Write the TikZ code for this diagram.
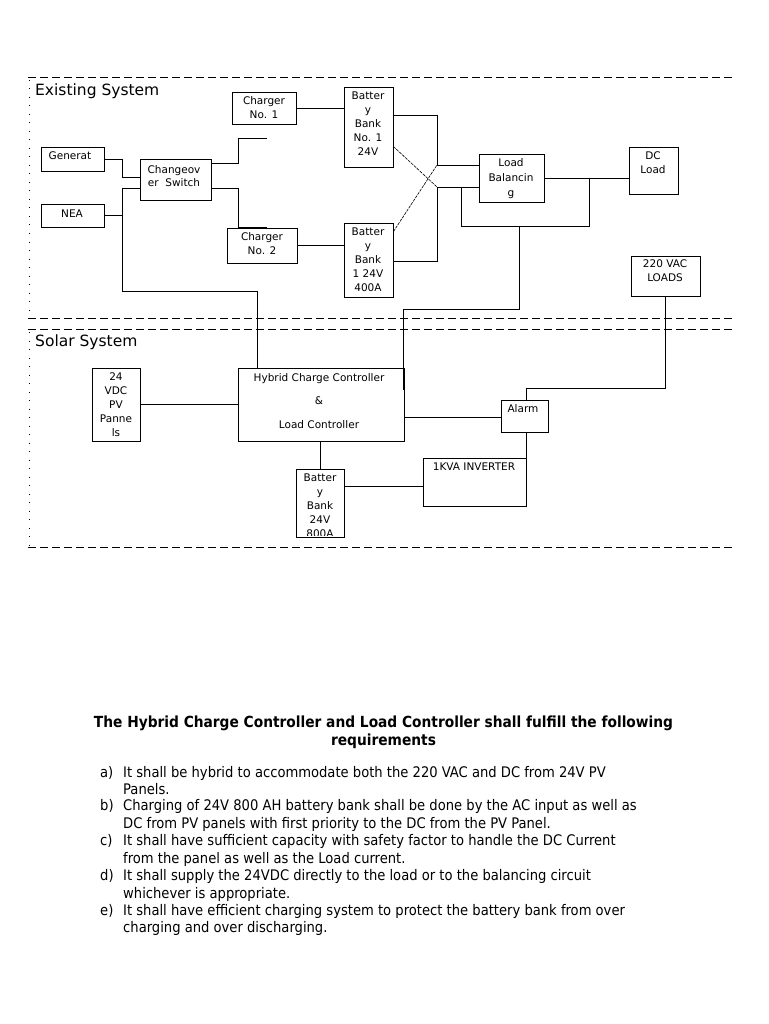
\documentclass[tikz,border=0pt]{standalone}
\usepackage{fontspec}
\setmainfont{DejaVu Sans}
\newfontfamily\bodyfont{DejaVu Sans Condensed}
\begin{document}
\begin{tikzpicture}[x=1pt,y=-1pt,
  box/.style={draw,line width=0.9pt,inner sep=0pt,rectangle},
  lbl/.style={inner sep=0pt,anchor=north,align=center,font={\fontsize{10.5}{14}\selectfont}},
  frame/.style={line width=0.8pt,dash pattern=on 8pt off 4pt},
  side/.style={line width=0.8pt,dash pattern=on 1pt off 7.5pt},
  wire/.style={line width=0.9pt},
  cross/.style={line width=0.6pt,dash pattern=on 3pt off 1pt},
  body/.style={inner sep=0pt,anchor=base west,font={\bodyfont\fontsize{14.6}{17}\selectfont}},
  head/.style={inner sep=0pt,anchor=base,font={\bodyfont\bfseries\fontsize{15.3}{17}\selectfont}}]
\useasboundingbox (0,0) rectangle (768,1024);
\fill[white] (0,0) rectangle (768,1024);

% frames
\draw[frame] (28,77) -- (735,77);
\draw[frame] (28,318) -- (735,318);
\draw[frame] (28,329) -- (735,329);
\draw[frame] (28,547) -- (735,547);
\draw[side] (29,80) -- (29,318);
\draw[side] (29,332) -- (29,547);
\node[inner sep=0pt,anchor=base west,font={\fontsize{15.5}{18}\selectfont}] (tex) at (35,96) {Existing System};
\node[inner sep=0pt,anchor=base west,font={\fontsize{15.5}{18}\selectfont}] (tsol) at (35,346) {Solar System};

% boxes
\node[box,minimum width=63pt,minimum height=24pt] (gen) at (72.5,159) {};
\node[box,minimum width=63pt,minimum height=23pt] (nea) at (72.5,215.5) {};
\node[box,minimum width=71pt,minimum height=41pt] (cos) at (175.5,179.5) {};
\node[box,minimum width=64pt,minimum height=32pt] (ch1) at (264,108) {};
\node[box,minimum width=70pt,minimum height=35pt] (ch2) at (262,245.5) {};
\node[box,minimum width=49pt,minimum height=80pt] (bb1) at (368.5,127) {};
\node[box,minimum width=49pt,minimum height=74pt] (bb2) at (368.5,260) {};
\node[box,minimum width=65pt,minimum height=48pt] (lb) at (511.5,178) {};
\node[box,minimum width=49pt,minimum height=47pt] (dcl) at (653.5,170.5) {};
\node[box,minimum width=69pt,minimum height=40pt] (vac) at (665.5,276) {};
\node[box,minimum width=48pt,minimum height=73pt] (pv) at (116,404.5) {};
\node[box,minimum width=166pt,minimum height=73pt] (hcc) at (321,404.5) {};
\node[box,minimum width=47pt,minimum height=32pt] (alm) at (524.5,416) {};
\node[box,minimum width=103pt,minimum height=48pt] (inv) at (474.5,482) {};
\node[box,minimum width=48pt,minimum height=68pt] (bbs) at (320,503) {};

% labels
\node[lbl] (gen-t) at (70,152) {Generat};
\node[lbl] (nea-t) at (72,210) {NEA};
\node[lbl,font={\fontsize{10.5}{13}\selectfont}] (cos-t) at (174,165) {Changeov\\er~~Switch};
\node[lbl] (ch1-t) at (264,96) {Charger\\No. 1};
\node[lbl] (ch2-t) at (262,232) {Charger\\No. 2};
\node[lbl] (bb1-t) at (368,92) {Batter\\y\\Bank\\No. 1\\24V};
\node[lbl] (bb2-t) at (368,228) {Batter\\y\\Bank\\1 24V\\400A};
\node[lbl,font={\fontsize{10.5}{15}\selectfont}] (lb-t) at (511,158) {Load\\Balancin\\g};
\node[lbl] (dcl-t) at (653,152) {DC\\Load};
\node[lbl] (vac-t) at (665,260) {220 VAC\\LOADS};
\node[lbl] (pv-t) at (116,373) {24\\VDC\\PV\\Panne\\ls};
\node[lbl,font={\fontsize{10.5}{23.5}\selectfont}] (hcc-t) at (319,373) {Hybrid Charge Controller\\\&\\Load Controller};
\node[lbl] (alm-t) at (523,404) {Alarm};
\node[lbl] (inv-t) at (474,463) {1KVA INVERTER};
\begin{scope}
\clip (bbs.north west) rectangle ([yshift=2pt]bbs.south east);
\node[lbl] (bbs-t) at (320,474) {Batter\\y\\Bank\\24V\\800A};
\end{scope}

% junction coordinates
\coordinate (j1) at (122,177);
\coordinate (j2) at (122,188);
\coordinate (j3) at (257,291);
\coordinate (d1) at (238,138);
\coordinate (d2) at (267,138);
\coordinate (e1) at (238,227);
\coordinate (e2) at (267,227);
\coordinate (f1) at (437,165);
\coordinate (f2) at (437,187);
\coordinate (g1) at (589,178);
\coordinate (g2) at (461,226);
\coordinate (h1) at (519,226);
\coordinate (h2) at (403,309);
\coordinate (h3) at (403,390);
\coordinate (k1) at (526,388);

% connectors
\draw[wire] (gen.east) -| (j1) -- (j1 -| cos.west);
\draw[wire] (nea.east) -| (j2) -- (j2 -| cos.west);
\draw[wire] (j2) |- (j3) -- (j3 |- hcc.north);
\draw[wire] ([yshift=-5pt]cos.north east) -| (d1) -- (d2);
\draw[wire] ([yshift=12pt]cos.south east) -| (e1) -- (e2);
\draw[wire] (ch1.east) -- (ch1.east -| bb1.west);
\draw[wire] (ch2.east) -- (ch2.east -| bb2.west);
\draw[wire] ([yshift=-29pt]bb1.north east) -| (f1) -- (f1 -| lb.west);
\draw[wire] ([yshift=-39pt]bb2.north east) -| (f2) -- (f2 -| lb.west);
\draw[cross] ([yshift=-60pt]bb1.north east) -- (f2);
\draw[cross] ([yshift=-9pt]bb2.north east) -- (f1);
\draw[wire] (lb.east) -- (lb.east -| dcl.west);
\draw[wire] (g1) |- (g2) -- (g2 |- f2);
\draw[wire] (h1) |- (h2) -- (h3);
\draw[wire] (vac.south) |- (k1) -- (k1 |- alm.north);
\draw[wire] (alm.south -| k1) -- (inv.north -| k1);
\draw[wire] (pv.east) -- (pv.east -| hcc.west);
\draw[wire] ([yshift=-12.5pt]hcc.east) -- ([yshift=-12.5pt]hcc.east -| alm.west);
\draw[wire] (hcc.south -| bbs.north) -- (bbs.north);
\draw[wire] ([yshift=-18pt]bbs.north east) -- ([yshift=-18pt]bbs.north east -| inv.west);

% requirements text
\node[head] (h-1) at (383.5,727) {The Hybrid Charge Controller and Load Controller shall fulfill the following};
\node[head] (h-2) at (383.5,745) {requirements};
\node[body] (la) at (100,777) {a)};
\node[body] (ta1) at (123,777) {It shall be hybrid to accommodate both the 220 VAC and DC from 24V PV};
\node[body] (ta2) at (123,794) {Panels.};
\node[body] (lbb) at (100,810) {b)};
\node[body] (tb1) at (123,810) {Charging of 24V 800 AH battery bank shall be done by the AC input as well as};
\node[body] (tb2) at (123,828) {DC from PV panels with first priority to the DC from the PV Panel.};
\node[body] (lc) at (100,845) {c)};
\node[body] (tc1) at (123,845) {It shall have sufficient capacity with safety factor to handle the DC Current};
\node[body] (tc2) at (123,863) {from the panel as well as the Load current.};
\node[body] (ld) at (100,880) {d)};
\node[body] (td1) at (123,880) {It shall supply the 24VDC directly to the load or to the balancing circuit};
\node[body] (td2) at (123,898) {whichever is appropriate.};
\node[body] (le) at (100,915) {e)};
\node[body] (te1) at (123,915) {It shall have efficient charging system to protect the battery bank from over};
\node[body] (te2) at (123,932) {charging and over discharging.};
\end{tikzpicture}
\end{document}
